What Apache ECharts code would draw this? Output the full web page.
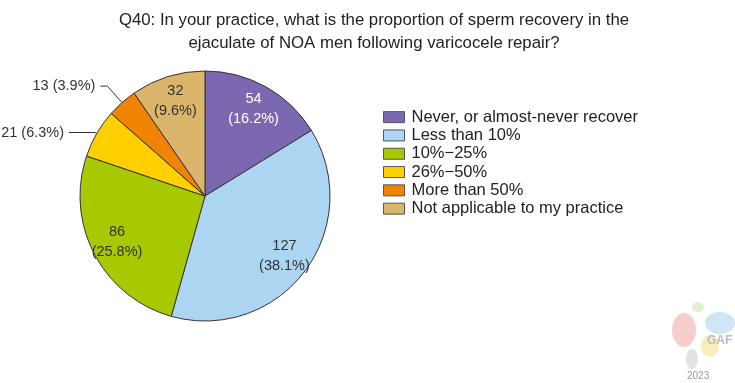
<!DOCTYPE html>
<html>
<head>
<meta charset="utf-8">
<script src="https://cdn.jsdelivr.net/npm/echarts@6/dist/echarts.min.js"></script>
<style>
html, body { margin: 0; padding: 0; background: #fff; }
#main { width: 735px; height: 383px; }
</style>
</head>
<body>
<div id="main"></div>
<script>
var categories = ['Never, or almost-never recover', 'Less than 10%', '10%\u221225%', '26%\u221250%', 'More than 50%', 'Not applicable to my practice'];
var counts = [54, 127, 86, 21, 13, 32];
var percents = ['16.2', '38.1', '25.8', '6.3', '3.9', '9.6'];
var colors = ['#7b68b0', '#acd5f2', '#a8c800', '#ffd000', '#f08300', '#dbb56c'];
var outside = [false, false, false, true, true, false];

var dom = document.getElementById('main');
var myChart = echarts.init(dom, null, { renderer: 'canvas' });

var center = [205, 196];
var font = 'Liberation Sans, Arial, sans-serif';

// main pie, outside labels only for the small slices
var mainData = categories.map(function (name, i) {
    var d = {
        name: name,
        value: counts[i],
        itemStyle: { color: colors[i] },
        label: { show: false },
        labelLine: { show: false }
    };
    if (outside[i]) {
        d.label = {
            show: true,
            position: 'outside',
            formatter: counts[i] + ' (' + percents[i] + '%)',
            fontSize: 14.5,
            color: '#333',
            fontFamily: font
        };
        d.labelLine = {
            show: true,
            length: i === 4 ? 22 : 2,
            length2: i === 4 ? 7 : 26,
            lineStyle: { color: '#333', width: 1 }
        };
    }
    return d;
});

// transparent band, only used to put the inside labels further out
var labelData = categories.map(function (name, i) {
    return {
        name: name,
        value: counts[i],
        label: {
            show: !outside[i],
            formatter: counts[i] + '\n(' + percents[i] + '%)',
            color: i === 0 ? '#fff' : '#333'
        }
    };
});

var option = {
    title: {
        text: 'Q40: In your practice, what is the proportion of sperm recovery in the\nejaculate of NOA men following varicocele repair?',
        left: 369,
        top: 4,
        textAlign: 'center',
        textStyle: {
            fontSize: 16.8,
            fontWeight: 'normal',
            color: '#222',
            fontFamily: font,
            lineHeight: 23
        }
    },
    legend: {
        orient: 'vertical',
        left: 378,
        top: 103,
        itemWidth: 21,
        itemHeight: 11,
        itemGap: 0,
        icon: 'rect',
        data: categories,
        itemStyle: { borderColor: '#555', borderWidth: 1 },
        textStyle: { fontSize: 16.5, lineHeight: 18.3, color: '#222', fontFamily: font, padding: [0, 0, 0, 2] },
        selectedMode: false
    },
    series: [
        {
            name: 'Q40',
            type: 'pie',
            center: center,
            radius: 125,
            startAngle: 90,
            clockwise: true,
            avoidLabelOverlap: false,
            silent: true,
            itemStyle: { borderColor: '#333', borderWidth: 1 },
            data: mainData
        },
        {
            name: 'labels',
            type: 'pie',
            center: center,
            radius: [68, 125],
            startAngle: 90,
            clockwise: true,
            silent: true,
            legendHoverLink: false,
            itemStyle: { color: 'rgba(0,0,0,0)' },
            label: {
                position: 'inside',
                fontSize: 14.5,
                lineHeight: 20,
                fontFamily: font,
                align: 'center'
            },
            labelLine: { show: false },
            data: labelData
        }
    ],
    graphic: [
        { type: 'ellipse', shape: { cx: 684, cy: 330, rx: 12, ry: 17 }, style: { fill: '#f6cfcc' }, silent: true },
        { type: 'ellipse', shape: { cx: 692, cy: 359, rx: 6, ry: 10 }, style: { fill: '#e2e2e2' }, silent: true },
        { type: 'ellipse', shape: { cx: 698, cy: 307, rx: 6, ry: 5 }, style: { fill: '#e2f0d2' }, silent: true },
        { type: 'ellipse', shape: { cx: 720, cy: 323, rx: 15, ry: 11 }, style: { fill: '#cde7f6' }, silent: true },
        { type: 'ellipse', shape: { cx: 710, cy: 346, rx: 9, ry: 11 }, style: { fill: '#faefb8' }, silent: true },
        { type: 'text', left: 707, top: 335, style: { text: 'GAF', fontSize: 12, fontWeight: 'bold', fill: '#b8bcc8', fontFamily: font }, silent: true },
        { type: 'text', left: 687, top: 371, style: { text: '2023', fontSize: 10, fill: '#999', fontFamily: font }, silent: true }
    ]
};

if (option && typeof option === 'object') {
    myChart.setOption(option);
}

window.addEventListener('resize', myChart.resize);
</script>
</body>
</html>
